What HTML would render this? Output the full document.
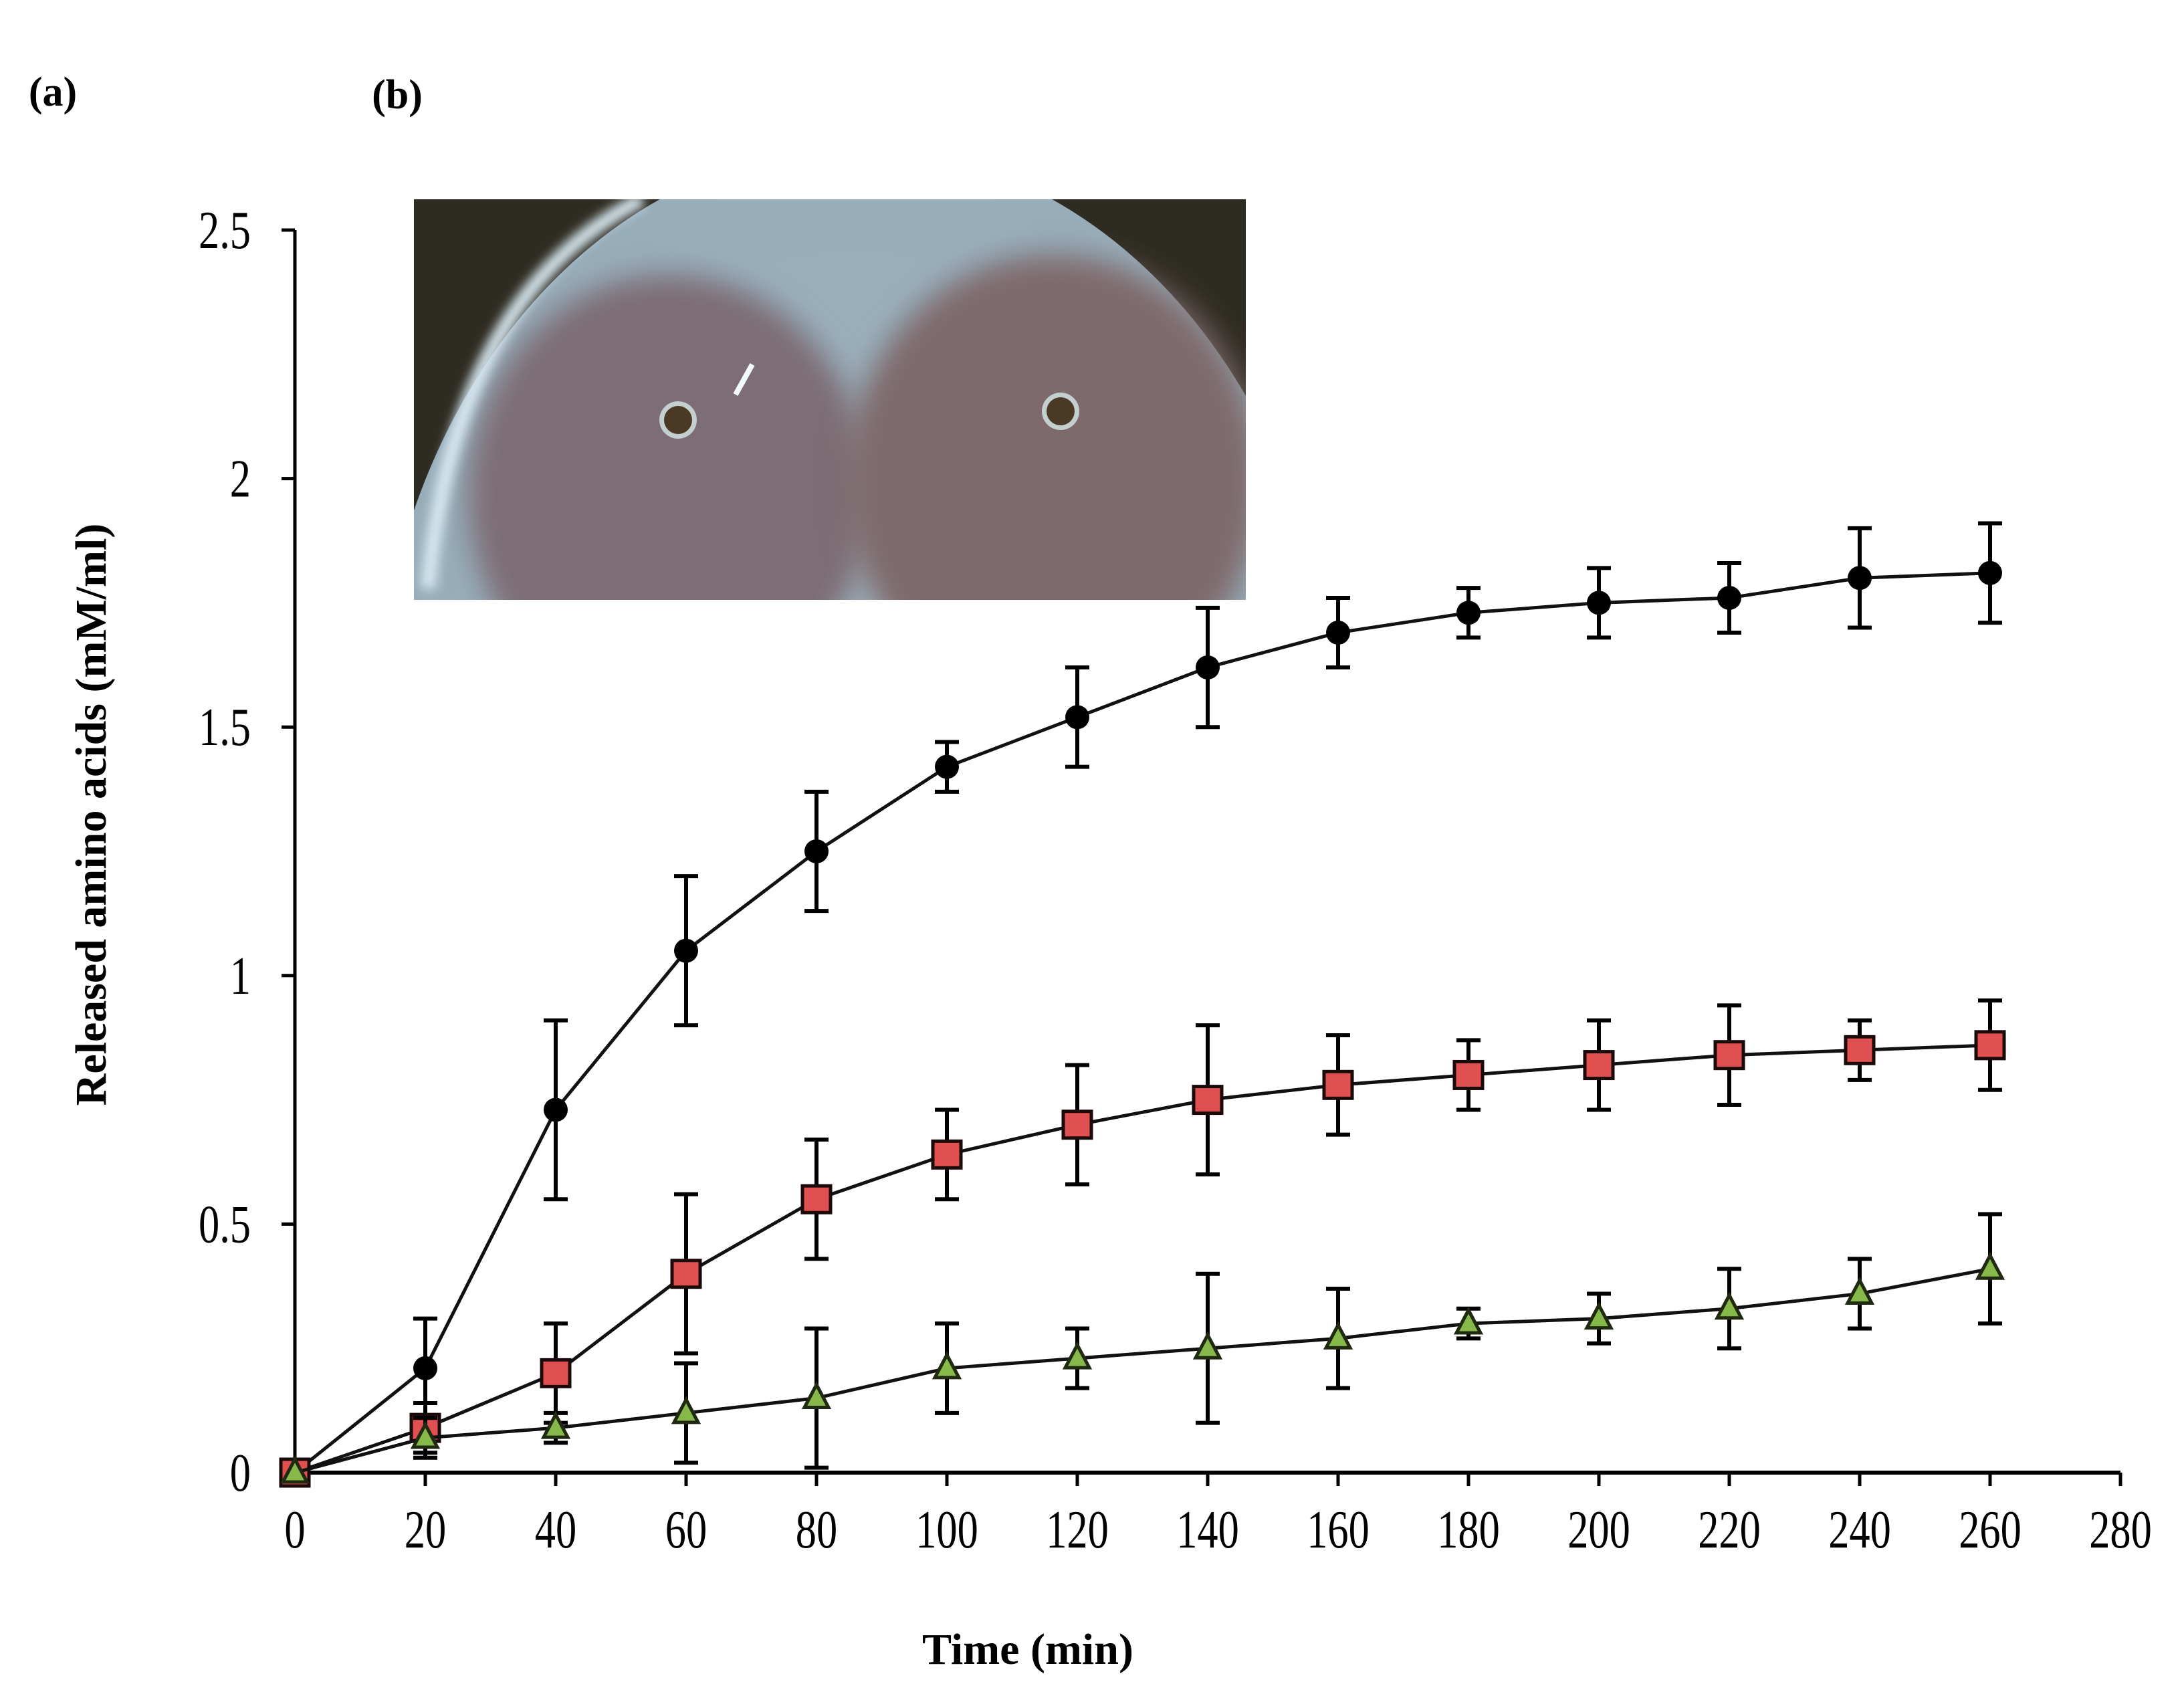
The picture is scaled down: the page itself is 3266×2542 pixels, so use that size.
<!DOCTYPE html>
<html><head><meta charset="utf-8"><style>
html,body{margin:0;padding:0;background:#fff;}
svg{display:block;}
text{font-family:"Liberation Serif",serif;}
</style></head><body>
<svg id="chart" width="3266" height="2542" viewBox="0 0 3266 2542">
<defs>
<filter id="blur" x="-20%" y="-20%" width="140%" height="140%"><feGaussianBlur stdDeviation="22"/></filter>
<filter id="blur2"><feGaussianBlur stdDeviation="8"/></filter>
<clipPath id="photoclip"><rect x="619" y="298" width="1244" height="599"/></clipPath>
<radialGradient id="plate" cx="0.5" cy="0.45" r="0.7"><stop offset="0" stop-color="#a0b4c0"/><stop offset="0.85" stop-color="#94abb8"/><stop offset="1" stop-color="#8aa3b0"/></radialGradient>
</defs>
<text x="79" y="158" font-size="62" font-weight="bold" text-anchor="middle">(a)</text>
<text x="594" y="162" font-size="62" font-weight="bold" text-anchor="middle">(b)</text>
<g clip-path="url(#photoclip)">
<rect x="619" y="298" width="1244" height="599" fill="#2e2b22"/>
<ellipse cx="1280" cy="1120" rx="720" ry="900" fill="url(#plate)"/>
<ellipse cx="1000" cy="740" rx="300" ry="330" fill="#7d6d75" filter="url(#blur)"/>
<ellipse cx="1575" cy="720" rx="310" ry="340" fill="#7e6b6c" filter="url(#blur)"/>
<path d="M640 880 Q680 440 960 298" stroke="#d8e8f0" stroke-width="22" fill="none" filter="url(#blur2)"/>
<circle cx="1014" cy="628" r="28" fill="#c4d0cf"/>
<circle cx="1014" cy="628" r="21" fill="#4a3a25"/>
<circle cx="1586" cy="615" r="28" fill="#c4d0cf"/>
<circle cx="1586" cy="615" r="21" fill="#4a3a25"/>
<path d="M1100 590 L1125 545" stroke="#f4fbff" stroke-width="8"/>
</g>
<g id="axes"></g>
<g id="marks"></g>
<text x="1537" y="2488" font-size="66" font-weight="bold" text-anchor="middle">Time (min)</text>
<text transform="translate(158,1218) rotate(-90)" font-size="66" font-weight="bold" text-anchor="middle">Released amino acids (mM/ml)</text>
</svg>
<script>
const times = [0,20,40,60,80,100,120,140,160,180,200,220,240,260];
const seriesBlack = [0,0.21,0.73,1.05,1.25,1.42,1.52,1.62,1.69,1.73,1.75,1.76,1.80,1.81];
const errBlack = [0,0.10,0.18,0.15,0.12,0.05,0.10,0.12,0.07,0.05,0.07,0.07,0.10,0.10];
const seriesRed = [0,0.09,0.20,0.40,0.55,0.64,0.70,0.75,0.78,0.80,0.82,0.84,0.85,0.86];
const errRed = [0,0.05,0.10,0.16,0.12,0.09,0.12,0.15,0.10,0.07,0.09,0.10,0.06,0.09];
const seriesGreen = [0,0.07,0.09,0.12,0.15,0.21,0.23,0.25,0.27,0.30,0.31,0.33,0.36,0.41];
const errGreen = [0,0.04,0.03,0.10,0.14,0.09,0.06,0.15,0.10,0.03,0.05,0.08,0.07,0.11];
const xTicks = [0,20,40,60,80,100,120,140,160,180,200,220,240,260,280];
const yTicks = [0,0.5,1,1.5,2,2.5];
const yTickLabels = ["0","0.5","1","1.5","2","2.5"];

const NS="http://www.w3.org/2000/svg";
const X0=441, XPER=195/20, Y0=2202, YPER=(2202-344)/2.5;
function xs(v){return X0+v*XPER;}
function ys(v){return Y0-v*YPER;}
function mk(tag,attrs,parent){const e=document.createElementNS(NS,tag);for(const k in attrs)e.setAttribute(k,attrs[k]);parent.appendChild(e);return e;}
const axes=document.getElementById('axes'), marks=document.getElementById('marks');

const yAxis=mk('line',{x1:X0,y1:ys(2.5),x2:X0,y2:Y0,stroke:'#000','stroke-width':5},axes);


const xAxis=mk('line',{x1:X0,y1:Y0,x2:xs(280),y2:Y0,stroke:'#000','stroke-width':6},axes);


xTicks.forEach(t=>{
  const l=mk('line',{x1:xs(t),y1:Y0,x2:xs(t),y2:Y0+20,stroke:'#000','stroke-width':5},axes);
  
  
  const tx=mk('text',{x:0,y:0,'font-size':80,'text-anchor':'middle',transform:`translate(${xs(t)},${2314}) scale(0.78,1)`},axes);
  tx.textContent=t;
  
  
});
yTicks.forEach((t,i)=>{
  const l=mk('line',{x1:X0-20,y1:ys(t),x2:X0,y2:ys(t),stroke:'#000','stroke-width':5},axes);
  
  
  const tx=mk('text',{x:0,y:0,'font-size':80,'text-anchor':'end',transform:`translate(375,${ys(t)+27}) scale(0.78,1)`},axes);
  tx.textContent=yTickLabels[i];
  
  
});

function drawSeries(vals,errs,name,shape){
  const g=mk('g',{},marks);
  
  
  const pts=vals.map((v,i)=>xs(times[i])+','+ys(vals[i])).join(' ');
  const pl=mk('polyline',{points:pts,fill:'none',stroke:'#111','stroke-width':5},g);
  
  
  vals.forEach((v,i)=>{
    const x=xs(times[i]), e=errs[i];
    if(e>0){
      const eb=mk('path',{d:`M${x},${ys(v+e)}V${ys(v-e)}M${x-18},${ys(v+e)}H${x+18}M${x-18},${ys(v-e)}H${x+18}`,stroke:'#000','stroke-width':6,fill:'none'},g);
      
      
    }
    let m;
    const y=ys(v);
    if(shape==='circle') m=mk('circle',{cx:x,cy:y,r:18,fill:'#000'},g);
    else if(shape==='square') m=mk('rect',{x:x-21,y:y-20,width:42,height:40,fill:'#e05050',stroke:'#1a0a0a','stroke-width':5},g);
    else m=mk('polygon',{points:`${x},${y-20} ${x+18},${y+14} ${x-18},${y+14}`,fill:'#86b84a',stroke:'#1f2a10','stroke-width':5},g);
    
    
  });
}
drawSeries(seriesBlack,errBlack,'black-circle','circle');
drawSeries(seriesRed,errRed,'red-square','square');
drawSeries(seriesGreen,errGreen,'green-triangle','triangle');
</script>
</body></html>
